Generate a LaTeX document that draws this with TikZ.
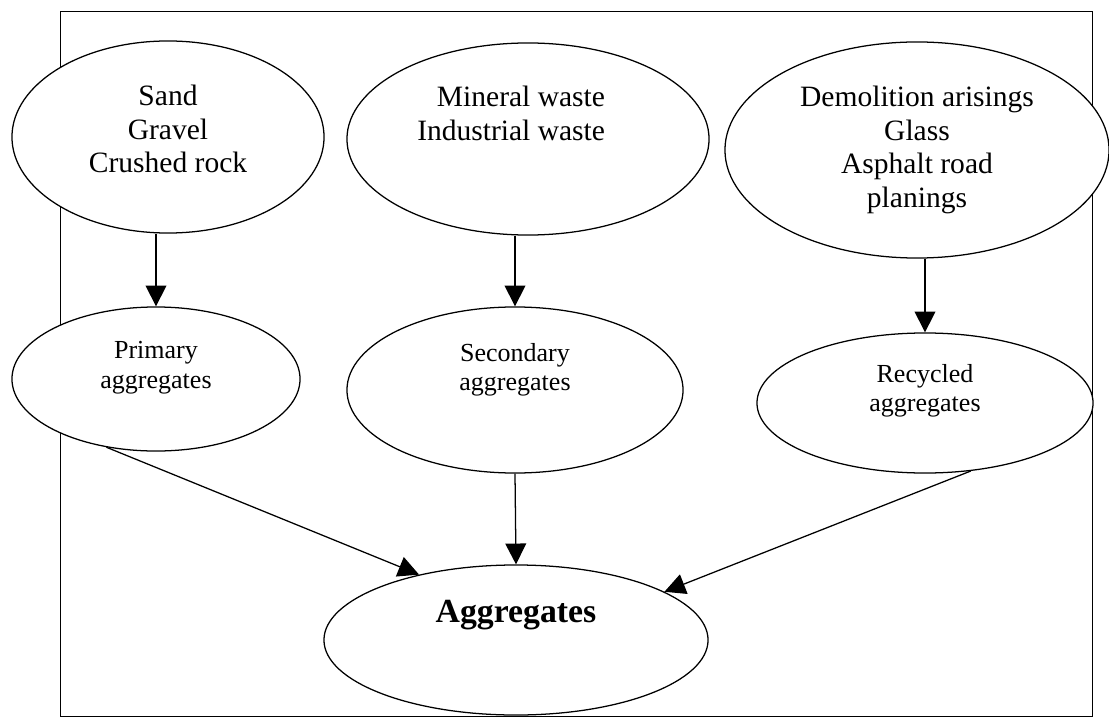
\documentclass[tikz,border=0pt]{standalone}
\usepackage{fontspec}
\setmainfont{Liberation Serif}
\usetikzlibrary{shapes.geometric,arrows.meta,positioning}

\tikzset{
  blob/.style={ellipse, draw, line width=0.9pt, fill=white, inner sep=0pt},
  big/.style={align=center, font=\fontsize{21}{23.8}\selectfont},
  small/.style={align=center, font=\fontsize{18.5}{21}\selectfont},
  flow/.style={->, line width=0.9pt}
}

\begin{document}
\begin{tikzpicture}[x=0.025cm, y=-0.025cm, >={Triangle[length=0.52cm,width=0.52cm]}]
  \useasboundingbox (0,0) rectangle (1109,728);
  % frame
  \draw[line width=0.7pt] (60,11) rectangle (1092,716);

  % sources
  \node[blob, minimum width=7.8cm, minimum height=4.8cm] (sand) at (168,137) {};
  \node[big] at ([yshift=0.2cm]sand.center) {Sand\\Gravel\\Crushed rock};
  \node[blob, minimum width=9.05cm, minimum height=4.8cm] (mineral) at (528,139) {};
  \node[big, align=right, anchor=east] at ([xshift=2.05cm, yshift=0.64cm]mineral.center) {Mineral waste\\Industrial waste};
  \node[blob, minimum width=9.6cm, minimum height=5.4cm] (demol) at (917,150) {};
  \node[big] at (demol.center) {Demolition arisings\\Glass\\Asphalt road\\planings};

  % aggregate types
  \node[blob, minimum width=7.2cm, minimum height=3.6cm] (prim) at (156,379) {};
  \node[small] at ([yshift=0.28cm]prim.center) {Primary\\aggregates};
  \node[blob, minimum width=8.4cm, minimum height=4.15cm] (sec) at (515,390) {};
  \node[small] at ([yshift=0.5cm]sec.center) {Secondary\\aggregates};
  \node[blob, minimum width=8.4cm, minimum height=3.5cm] (rec) at (925,403) {};
  \node[small] at ([yshift=0.3cm]rec.center) {Recycled\\aggregates};

  % result
  \node[blob, minimum width=9.6cm, minimum height=3.75cm] (agg) at (516,640) {};
  \node[font=\fontsize{24}{27}\selectfont\bfseries] at ([yshift=0.62cm]agg.center) {Aggregates};

  \draw[flow] (prim.north |- sand.south) -- (prim.north);
  \draw[flow] (sec.north |- mineral.south) -- (sec.north);
  \draw[flow] (rec.north |- demol.south) -- (rec.north);
  \draw[flow] (prim.234) -- (agg.146);
  \draw[flow] (sec.south) -- (agg.north);
  \draw[flow] (rec.304) -- (agg.18);
\end{tikzpicture}
\end{document}
